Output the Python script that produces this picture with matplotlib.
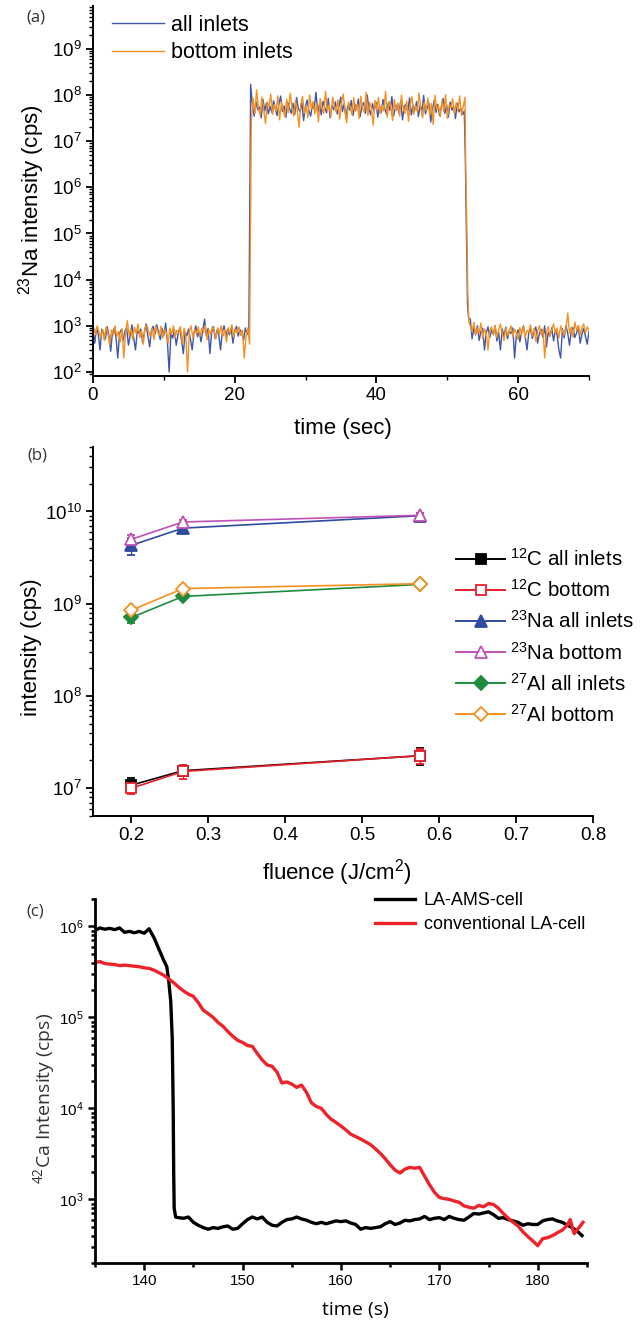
import matplotlib
matplotlib.use("Agg")
import matplotlib.pyplot as plt
import numpy as np
from matplotlib.lines import Line2D
from matplotlib.ticker import LogLocator, NullFormatter, MultipleLocator

plt.rcParams['font.family'] = ['Liberation Sans', 'DejaVu Sans']
plt.rcParams['mathtext.default'] = 'regular'

# ---------------- (a) 23Na transient, all inlets vs bottom inlets ----------------
# baseline before ablation, 0 - 22 s (0.25 s steps)
blue_base1 = [
    780, 420, 900, 650, 300, 850, 700, 520, 950, 610, 280, 720,
    880, 560, 200, 690, 830, 470, 760, 910, 380, 640, 1050, 540,
    300, 780, 690, 850, 430, 720, 1100, 600, 350, 820, 980, 650,
    1050, 720, 500, 880, 620, 1150, 460, 100, 700, 540, 820, 380,
    650, 900, 470, 250, 740, 610, 850, 520, 300, 690, 1000, 580,
    740, 450, 820, 1400, 600, 880, 250, 710, 960, 530, 800, 650,
    300, 720, 1000, 560, 850, 640, 900, 420, 780, 980, 600, 830,
    700, 480, 900, 650, 820]
orange_base1 = [
    900, 650, 1000, 720, 560, 830, 480, 950, 700, 380, 820, 640,
    1000, 590, 760, 450, 880, 200, 720, 1300, 620, 850, 500, 940,
    680, 1100, 560, 800, 400, 900, 1050, 730, 600, 880, 500, 1000,
    760, 620, 980, 540, 850, 700, 420, 900, 650, 1000, 560, 800,
    720, 950, 400, 880, 600, 100, 750, 1000, 540, 820, 680, 950,
    600, 880, 720, 1000, 500, 830, 650, 960, 740, 520, 900, 680,
    1000, 600, 820, 450, 900, 700, 1050, 560, 840, 700, 950, 620,
    800, 200, 600, 900, 400]

# plateau during ablation, 22.25 - 52.4 s, in units of 1e7 cps
blue_plateau_e7 = [
    17, 6.0, 3.5, 7.2, 4.8, 5.5, 3.2, 8.0, 4.5, 6.8, 3.9, 5.7,
    4.2, 7.5, 5.0, 3.6, 6.3, 9.5, 4.4, 5.8, 3.3, 7.0, 5.2, 4.0,
    6.6, 3.8, 8.8, 5.1, 4.3, 6.9, 2.8, 5.6, 7.8, 4.6, 3.5, 6.2,
    5.0, 11.5, 4.2, 6.4, 3.7, 7.3, 5.3, 4.1, 8.5, 3.2, 6.0, 4.8,
    7.1, 3.9, 5.5, 9.0, 4.4, 6.6, 3.1, 5.9, 4.7, 7.6, 3.6, 6.3,
    4.9, 8.2, 3.4, 5.7, 6.8, 4.0, 10.0, 5.1, 3.7, 6.5, 4.5, 7.0,
    3.3, 5.8, 4.2, 8.0, 5.0, 3.8, 6.9, 4.6, 9.2, 3.5, 5.4, 6.1,
    4.1, 7.4, 2.9, 5.6, 6.4, 4.3, 8.7, 3.7, 5.9, 4.8, 7.2, 3.4,
    6.0, 4.4, 9.8, 3.9, 5.3, 6.7, 2.6, 5.0, 7.7, 4.2, 6.3, 3.6,
    5.5, 8.4, 4.0, 6.2, 3.3, 7.0, 4.7, 5.8, 3.1, 6.6, 4.3, 5.2,
    3.8, 4.5]
orange_plateau_e7 = [
    3.0, 8.5, 4.0, 13, 5.2, 3.6, 9.0, 4.8, 2.4, 7.0, 5.5, 10.5,
    3.8, 6.2, 4.5, 9.6, 2.9, 6.8, 5.0, 3.3, 8.1, 4.2, 11.0, 5.7,
    3.5, 7.5, 4.6, 2.0, 6.3, 9.3, 4.1, 5.9, 3.2, 10.0, 5.1, 7.2,
    3.9, 6.5, 2.6, 8.4, 5.3, 4.0, 12.0, 4.7, 6.1, 3.4, 9.0, 5.6,
    4.3, 7.8, 3.0, 6.6, 10.5, 4.9, 2.5, 7.1, 5.4, 3.7, 8.8, 4.4,
    6.4, 3.1, 9.4, 5.0, 4.2, 11.5, 3.6, 6.9, 5.2, 2.2, 7.6, 4.8,
    8.9, 3.9, 6.0, 4.5, 12.0, 3.3, 7.3, 5.5, 2.8, 8.0, 4.6, 6.7,
    3.5, 10.0, 5.1, 4.0, 7.4, 2.7, 6.2, 9.2, 3.8, 5.8, 4.3, 11.0,
    5.0, 3.2, 7.0, 4.6, 8.6, 3.6, 6.5, 2.3, 9.8, 4.9, 5.9, 3.4,
    7.7, 4.4, 10.2, 3.1, 6.0, 5.3, 8.3, 3.9, 6.8, 4.5, 9.5, 3.6,
    5.6, 9.0]

# wash-out after ablation
blue_fall_t = [52.55, 52.7, 52.85, 53.0]
blue_fall = [4e6, 1.2e5, 3e3, 1.5e3]
orange_fall_t = [52.6, 52.75, 52.9, 53.05]
orange_fall = [3e6, 2e5, 5e3, 1.2e3]

# baseline after ablation, 53.25 - 70 s
blue_base2 = [
    1400, 520, 900, 650, 1000, 480, 760, 880, 300, 700, 950, 560,
    820, 640, 1000, 470, 720, 300, 860, 600, 940, 520, 780, 680,
    900, 200, 640, 820, 450, 750, 1000, 580, 300, 700, 880, 530,
    760, 950, 420, 680, 840, 560, 1000, 350, 720, 600, 900, 470,
    800, 640, 300, 200, 860, 550, 1000, 690, 380, 780, 920, 560,
    700, 1000, 420, 650, 880, 600, 400, 750]
orange_base2 = [
    1000, 750, 1200, 620, 900, 700, 1150, 520, 850, 680, 300, 800,
    950, 640, 1000, 560, 820, 1100, 700, 480, 900, 620, 760, 1000,
    580, 840, 700, 500, 920, 650, 1000, 560, 800, 720, 1050, 600,
    880, 460, 760, 1000, 640, 850, 200, 720, 960, 600, 820, 1100,
    680, 900, 540, 1000, 760, 620, 880, 1900, 700, 940, 560, 1200,
    800, 1000, 640, 900, 1100, 700, 950, 800]

# ---------------- (b) intensity vs fluence ----------------
fluence = [0.2, 0.267, 0.575]
b_labels = ['$^{12}$C all inlets', '$^{12}$C bottom', '$^{23}$Na all inlets',
            '$^{23}$Na bottom', '$^{27}$Al all inlets', '$^{27}$Al bottom']
c_all = [1.08e7, 1.55e7, 2.25e7]
c_all_err = [0.2e7, 0.2e7, 0.45e7]
c_bottom = [1.0e7, 1.52e7, 2.25e7]
c_bottom_err = [0.13e7, 0.25e7, 0.4e7]
na_all = [4.3e9, 6.6e9, 9.0e9]
na_all_err = [0.9e9, 0.7e9, 0.6e9]
na_bottom = [5.0e9, 7.7e9, 9.1e9]
na_bottom_err = [0.5e9, 0.4e9, 0.6e9]
al_all = [7.1e8, 1.2e9, 1.62e9]
al_all_err = [0.9e8, 0.8e8, 1.0e8]
al_bottom = [8.5e8, 1.46e9, 1.65e9]
al_bottom_err = [0.5e8, 0.6e8, 1.5e8]

# ---------------- (c) 42Ca wash-out, two cells ----------------
ams_time = [135, 135.5, 136, 136.5, 137, 137.5, 138, 138.5, 139, 139.5, 140, 140.5,
            141, 141.5, 142, 142.3, 142.5, 142.7, 142.85, 142.95, 143.0, 143.05, 143.2,
            143.5, 144, 144.5, 145, 145.5, 146, 146.5, 147, 147.5, 148, 148.5, 149,
            149.5, 150, 150.5, 151, 151.5, 152, 152.5, 153, 153.5, 154, 154.5, 155,
            155.5, 156, 156.5, 157, 157.5, 158, 158.5, 159, 159.5, 160, 160.5, 161,
            161.5, 162, 162.5, 163, 163.5, 164, 164.5, 165, 165.5, 166, 166.5, 167,
            167.5, 168, 168.5, 169, 169.5, 170, 170.5, 171, 171.5, 172, 172.5, 173,
            173.5, 174, 174.5, 175, 175.5, 176, 176.5, 177, 177.5, 178, 178.5, 179,
            179.5, 180, 180.5, 181, 181.5, 182, 182.5, 183, 183.5, 184, 184.5]
ams_cps = [9.0e5, 9.6e5, 9.3e5, 9.5e5, 9.2e5, 9.6e5, 8.6e5, 8.8e5, 8.5e5, 8.8e5, 8.4e5, 9.4e5,
           7.5e5, 5.6e5, 4.2e5, 3.6e5, 2.5e5, 1.5e5, 6e4, 1e4, 2e3, 800, 640,
           630, 620, 640, 560, 520, 490, 470, 490, 480, 500, 510, 470,
           480, 540, 600, 640, 610, 640, 560, 520, 510, 560, 600, 610,
           640, 610, 590, 560, 540, 560, 540, 560, 580, 570, 580, 550,
           530, 470, 490, 480, 490, 500, 540, 570, 530, 550, 590, 580,
           600, 610, 650, 600, 620, 630, 600, 650, 620, 600, 590, 640,
           700, 690, 710, 730, 680, 620, 630, 600, 580, 560, 520, 540,
           530, 530, 580, 600, 610, 580, 560, 520, 490, 450, 400]
conv_time = [135, 135.5, 136, 136.5, 137, 137.5, 138, 138.5, 139, 139.5, 140, 140.5,
             141, 141.5, 142, 142.5, 143, 143.5, 144, 144.5, 145, 145.5, 146, 146.5,
             147, 147.5, 148, 148.5, 149, 149.5, 150, 150.5, 151, 151.5, 152, 152.5,
             153, 153.5, 154, 154.5, 155, 155.5, 156, 156.5, 157, 157.5, 158, 158.5,
             159, 159.5, 160, 160.5, 161, 161.5, 162, 162.5, 163, 163.5, 164, 164.5,
             165, 165.5, 166, 166.5, 167, 167.5, 168, 168.5, 169, 169.5, 170, 170.5,
             171, 171.5, 172, 172.5, 173, 173.5, 174, 174.5, 175, 175.5, 176, 176.5,
             177, 177.5, 178, 178.5, 179, 179.5, 180, 180.5, 181, 181.5, 182, 182.5,
             183, 183.3, 183.7, 184, 184.6]
conv_cps = [4.0e5, 4.1e5, 3.9e5, 3.85e5, 3.8e5, 3.7e5, 3.75e5, 3.7e5, 3.65e5, 3.6e5, 3.5e5, 3.45e5,
            3.3e5, 3.1e5, 2.9e5, 2.65e5, 2.4e5, 2.15e5, 1.95e5, 1.8e5, 1.7e5, 1.45e5, 1.2e5, 1.1e5,
            1.0e5, 8.8e4, 8.0e4, 7.0e4, 6.2e4, 5.6e4, 5.3e4, 4.9e4, 4.8e4, 4.0e4, 3.4e4, 3.0e4,
            2.9e4, 2.5e4, 1.9e4, 1.95e4, 1.85e4, 1.7e4, 1.8e4, 1.5e4, 1.15e4, 1.05e4, 1.0e4, 8.6e3,
            7.6e3, 7.0e3, 6.4e3, 5.8e3, 5.2e3, 4.9e3, 4.6e3, 4.3e3, 4.0e3, 3.6e3, 3.2e3, 2.8e3,
            2.4e3, 2.1e3, 1.95e3, 2.15e3, 2.25e3, 2.2e3, 2.25e3, 1.8e3, 1.45e3, 1.2e3, 1.05e3, 1.02e3,
            1.0e3, 960, 930, 850, 820, 800, 860, 830, 900, 880, 800, 700,
            620, 560, 510, 440, 390, 350, 310, 370, 380, 400, 430, 460,
            520, 600, 420, 460, 560]


def style_log_axis(ax, tick_size):
    ax.spines['top'].set_visible(False)
    ax.spines['right'].set_visible(False)
    for s in ['left', 'bottom']:
        ax.spines[s].set_linewidth(1.4)
    ax.yaxis.set_major_locator(LogLocator(base=10, numticks=20))
    ax.yaxis.set_minor_locator(LogLocator(base=10, subs=np.arange(2, 10), numticks=20))
    ax.yaxis.set_minor_formatter(NullFormatter())
    ax.tick_params(which='major', length=5, width=1.3, labelsize=tick_size, pad=3)
    ax.tick_params(which='minor', length=3, width=1.0)


fig = plt.figure(figsize=(6.43, 13.21), dpi=100)

# ---- (a)
ax1 = fig.add_axes([0.1446, 0.7154, 0.7714, 0.2801])
t1 = np.linspace(0, 22.0, len(blue_base1))
t2 = np.linspace(22.25, 52.4, len(blue_plateau_e7))
t3 = np.linspace(53.25, 70, len(blue_base2))
blue_t = np.concatenate([t1, t2, blue_fall_t, t3])
blue_y = np.concatenate([blue_base1, np.array(blue_plateau_e7) * 1e7, blue_fall, blue_base2])
orange_t = np.concatenate([t1 + 0.1, t2 + 0.1, orange_fall_t, t3])
orange_y = np.concatenate([orange_base1, np.array(orange_plateau_e7) * 1e7, orange_fall, orange_base2])
ax1.plot(blue_t, blue_y, color='#3F57AC', lw=1.0, label='all inlets')
ax1.plot(orange_t, orange_y, color='#F7901E', lw=1.0, label='bottom inlets')
ax1.set_yscale('log')
ax1.set_xlim(0, 70)
ax1.set_ylim(82, 8.5e9)
style_log_axis(ax1, 13.5)
ax1.xaxis.set_major_locator(MultipleLocator(20))
ax1.xaxis.set_minor_locator(MultipleLocator(10))
ax1.set_xlabel('time (sec)', fontsize=16, va='center')
ax1.xaxis.set_label_coords(0.504, -0.141)
ax1.set_ylabel(r'$^{23}$Na intensity (cps)', fontsize=16, va='center')
ax1.yaxis.set_label_coords(-0.124, 0.476)
ax1.legend(loc='upper left', bbox_to_anchor=(112 / 643, 1 - 15 / 1321),
           bbox_transform=fig.transFigure, frameon=False, fontsize=15.5,
           borderpad=0, borderaxespad=0, handlelength=2.4, handletextpad=0.35,
           labelspacing=0.3)

# ---- (b)
ax2 = fig.add_axes([0.1446, 0.3823, 0.7776, 0.2793])
series_b = [
    (c_all, c_all_err, 's', 'black', 'black'),
    (c_bottom, c_bottom_err, 's', '#E8202A', 'white'),
    (na_all, na_all_err, '^', '#2F4A9E', '#2F4A9E'),
    (na_bottom, na_bottom_err, '^', '#BF50B6', 'white'),
    (al_all, al_all_err, 'D', '#1E8B3E', '#1E8B3E'),
    (al_bottom, al_bottom_err, 'D', '#F7901E', 'white'),
]
b_handles = []
for (vals, errs, mk, col, face), lab in zip(series_b, b_labels):
    ms = 6.5 if mk == 's' else 8 if mk == '^' else 7
    ax2.errorbar(fluence, vals, yerr=errs, color=col, marker=mk, ms=ms,
                 mfc=face, mec=col, mew=1.3, lw=1.2, elinewidth=0.9,
                 capsize=3, capthick=0.9)
    b_handles.append(Line2D([], [], color=col, marker=mk, ms=ms, mfc=face,
                            mec=col, mew=1.3, lw=1.4, label=lab))
ax2.set_yscale('log')
ax2.set_xlim(0.15, 0.8)
ax2.set_ylim(5e6, 5e10)
style_log_axis(ax2, 13.5)
ax2.xaxis.set_major_locator(MultipleLocator(0.1))
ax2.set_xlabel('fluence (J/cm$^{2}$)', fontsize=16, va='center')
ax2.xaxis.set_label_coords(0.488, -0.152)
ax2.set_ylabel('intensity (cps)', fontsize=16, va='center')
ax2.yaxis.set_label_coords(-0.123, 0.458)
ax2.legend(handles=b_handles, loc='upper left', bbox_to_anchor=(456 / 643, 1 - 548 / 1321),
           bbox_transform=fig.transFigure, frameon=False, fontsize=14.8,
           borderpad=0, borderaxespad=0, handlelength=2.4, handletextpad=0.25,
           labelspacing=0.45)

# ---- (c)
ax3 = fig.add_axes([0.1477, 0.0439, 0.7651, 0.2756])
ax3.plot(ams_time, ams_cps, color='black', lw=2.4, label='LA-AMS-cell')
ax3.plot(conv_time, conv_cps, color='#EE2229', lw=2.4, label='conventional LA-cell')
ax3.set_yscale('log')
ax3.set_xlim(135, 185)
ax3.set_ylim(200, 2e6)
style_log_axis(ax3, 11)
for s in ['left', 'bottom']:
    ax3.spines[s].set_linewidth(2.0)
ax3.tick_params(which='both', width=1.8)
ax3.xaxis.set_major_locator(MultipleLocator(10))
ax3.xaxis.set_minor_locator(MultipleLocator(5))
ax3.set_xlabel('time (s)', fontsize=14, va='center', family=['Open Sans', 'DejaVu Sans'])
ax3.xaxis.set_label_coords(0.53, -0.128)
ax3.set_ylabel(r'$^{42}$Ca Intensity (cps)', fontsize=14, va='center',
               family=['Open Sans', 'DejaVu Sans'], color='#333333')
ax3.yaxis.set_label_coords(-0.104, 0.453)
ax3.legend(loc='upper left', bbox_to_anchor=(375 / 643, 1 - 892 / 1321),
           bbox_transform=fig.transFigure, frameon=False, fontsize=13,
           borderpad=0, borderaxespad=0, handlelength=2.2, handletextpad=0.5,
           labelspacing=0.4)

# panel letters
for lab, (px, py) in zip(['(a)', '(b)', '(c)'], [(36, 18), (37, 455), (35, 912)]):
    fig.text(px / 643, 1 - py / 1321, lab, ha='center', va='center', fontsize=12,
             family=['Open Sans', 'DejaVu Sans'], color='#333333')

fig.savefig('out.png', dpi=100)
